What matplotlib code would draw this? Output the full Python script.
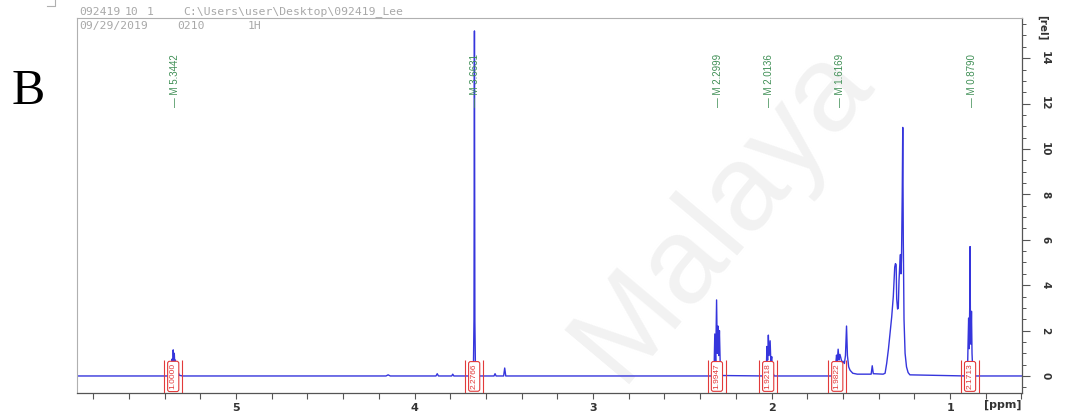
import matplotlib
matplotlib.use("Agg")
import matplotlib.pyplot as plt
from matplotlib.ticker import FixedLocator, MultipleLocator
from matplotlib.lines import Line2D

# ---------------- data ----------------
spec_ppm = [
    5.891, 5.400,
    5.368, 5.362, 5.358, 5.355, 5.352, 5.349, 5.346, 5.343, 5.340, 5.336, 5.330, 5.322, 5.318, 5.300,
    4.160, 4.148, 4.136,
    3.880, 3.873, 3.866,
    3.792, 3.786, 3.780,
    3.685, 3.675, 3.670, 3.667, 3.6645, 3.662, 3.659, 3.652, 3.645,
    3.555, 3.549, 3.543,
    3.501, 3.495, 3.489,
    2.335, 2.322, 2.318, 2.313, 2.308, 2.304, 2.300, 2.296, 2.292, 2.287, 2.278,
    2.040, 2.030, 2.026, 2.022, 2.018, 2.014, 2.008, 2.004, 1.999, 1.994, 1.985,
    1.655, 1.645, 1.636, 1.632, 1.627, 1.622, 1.617, 1.612, 1.606, 1.600, 1.592, 1.586,
    1.580, 1.575, 1.568, 1.560, 1.545, 1.520,
    1.442, 1.436, 1.430,
    1.375, 1.364, 1.355, 1.345, 1.336, 1.327, 1.318, 1.310, 1.306, 1.302, 1.299, 1.294,
    1.290, 1.286, 1.281, 1.278, 1.275, 1.272, 1.268, 1.265, 1.262, 1.258, 1.252, 1.244,
    1.235, 1.225,
    0.910, 0.902, 0.899, 0.896, 0.893, 0.890, 0.888, 0.886, 0.883, 0.880, 0.877, 0.873, 0.866,
    0.597,
]
spec_int = [
    0.0, 0.0,
    0.0, 0.25, 0.75, 0.45, 1.15, 0.6, 1.0, 0.45, 0.7, 0.25, 0.05, 0.12, 0.03, 0.0,
    0.0, 0.05, 0.0,
    0.0, 0.1, 0.0,
    0.0, 0.08, 0.0,
    0.0, 0.1, 0.45, 2.5, 15.2, 2.4, 0.4, 0.1, 0.0,
    0.0, 0.1, 0.0,
    0.0, 0.35, 0.0,
    0.0, 0.3, 1.85, 0.6, 3.35, 1.0, 2.2, 0.9, 2.0, 0.3, 0.02,
    0.0, 0.1, 1.3, 0.7, 1.8, 0.9, 1.55, 0.6, 0.85, 0.15, 0.0,
    0.0, 0.15, 0.92, 0.6, 1.18, 0.7, 0.95, 0.8, 0.6, 0.65, 0.55, 0.9,
    2.2, 0.9, 0.4, 0.25, 0.12, 0.08,
    0.08, 0.45, 0.1,
    0.08, 0.12, 0.56, 1.2, 1.9, 2.6, 3.5, 4.8, 4.95, 4.9, 3.4, 2.95,
    3.0, 4.2, 5.0, 5.35, 4.5, 5.2, 8.0, 10.95, 6.0, 2.5, 1.0, 0.4,
    0.15, 0.05,
    0.0, 0.3, 1.5, 2.55, 1.2, 3.0, 5.7, 2.4, 1.4, 2.85, 1.0, 0.25, 0.0,
    0.0,
]

peak_label_ppm = [5.3442, 3.6631, 2.2999, 2.0136, 1.6169, 0.8790]
peak_labels = ["\u2014 M 5.3442", "\u2014 M 3.6631", "\u2014 M 2.2999",
               "\u2014 M 2.0136", "\u2014 M 1.6169", "\u2014 M 0.8790"]

integral_ppm = [5.352, 3.666, 2.306, 2.019, 1.632, 0.888]
integral_labels = ["1.0000", "2.2766", "1.9947", "1.9218", "1.9822", "2.1713"]

x_major = [5, 4, 3, 2, 1]
y_major = [0, 2, 4, 6, 8, 10, 12, 14]

# ---------------- figure ----------------
W, H = 1066, 412
fig = plt.figure(figsize=(W / 100, H / 100), dpi=100)
fig.patch.set_facecolor("white")

def fx(px):
    return px / W

def fy(py):
    return 1 - py / H

# watermark
fig.text(fx(722), fy(212), "Malaya", fontsize=88, rotation=50,
         color="#f2f2f2", ha="center", va="center", family="Liberation Sans",
         zorder=-5)

ax = fig.add_axes([fx(77), fy(393), fx(1022) - fx(77), fy(18) - fy(393)])
ax.patch.set_alpha(0)

blue = "#3535dc"
red = "#e23a3a"
green = "#3f8f55"

ax.plot(spec_ppm, spec_int, color=blue, lw=1.0, zorder=2)

ax.set_xlim(5.891, 0.597)
ax.set_ylim(-0.75, 15.77)

# integral brackets + labels
for p, lab in zip(integral_ppm, integral_labels):
    ax.vlines([p - 0.05, p + 0.05], -0.75, 0.72, color=red, lw=0.8, zorder=3)
    ax.text(p, -0.02, lab, rotation=90, ha="center", va="center", color=red,
            fontsize=6, family="Liberation Sans", zorder=4,
            bbox=dict(boxstyle="round,pad=0.25", fc="white", ec=red, lw=0.8))

# peak labels
for p, lab in zip(peak_label_ppm, peak_labels):
    ax.text(p, 11.85, lab, rotation=90, ha="center", va="bottom", color=green,
            fontsize=7, family="Liberation Sans", zorder=4)

# spines
for s in ["top", "left"]:
    ax.spines[s].set_color("#b0b0b0")
    ax.spines[s].set_linewidth(0.8)
for s in ["bottom", "right"]:
    ax.spines[s].set_color("#555555")
    ax.spines[s].set_linewidth(0.9)

# x axis
ax.xaxis.set_major_locator(FixedLocator(x_major))
ax.xaxis.set_minor_locator(MultipleLocator(0.2))
ax.set_xticklabels([str(v) for v in x_major])
ax.tick_params(axis="x", which="both", direction="out", length=4, width=0.8,
               color="#555555", pad=3, labelsize=8, labelcolor="#333333")
for t in ax.get_xticklabels():
    t.set_fontweight("bold")

# y axis on right
ax.yaxis.tick_right()
ax.yaxis.set_major_locator(FixedLocator(y_major))
ax.yaxis.set_minor_locator(MultipleLocator(0.5))
ax.set_yticklabels([str(v) for v in y_major])
ax.tick_params(axis="y", which="major", direction="out", length=6, width=0.8,
               color="#555555", pad=7, labelsize=7.5, labelcolor="#333333",
               labelrotation=-90)
ax.tick_params(axis="y", which="minor", direction="out", length=3, width=0.7,
               color="#555555")
for t in ax.get_yticklabels():
    t.set_verticalalignment("center")
    t.set_fontweight("bold")

fig.text(fx(1042), fy(28), "[rel]", rotation=-90, ha="center", va="center",
         fontsize=7.5, color="#333333", fontweight="bold")
fig.text(fx(1003), fy(405), "[ppm]", ha="center", va="center",
         fontsize=8, color="#333333", fontweight="bold")

# panel letter
fig.text(fx(28), fy(92), "B", fontsize=36, family="Liberation Serif",
         ha="center", va="center", color="black")

# header text
hdr = dict(family="DejaVu Sans Mono", fontsize=8.2, color="#a8a8a8",
           ha="left", va="center")
fig.text(fx(79), fy(12), "092419", **hdr)
fig.text(fx(125), fy(12), "10", **hdr)
fig.text(fx(147), fy(12), "1", **hdr)
fig.text(fx(183), fy(12), "C:\\Users\\user\\Desktop\\092419_Lee", **hdr)
fig.text(fx(79), fy(26), "09/29/2019", **hdr)
fig.text(fx(177), fy(26), "0210", **hdr)
fig.text(fx(248), fy(26), "1H", **hdr)

# page corner mark
fig.add_artist(Line2D([fx(47), fx(55), fx(55)], [fy(6), fy(6), fy(0)],
                      color="#b0b0b0", lw=0.8))

fig.savefig("out.png", dpi=100, facecolor="white")
